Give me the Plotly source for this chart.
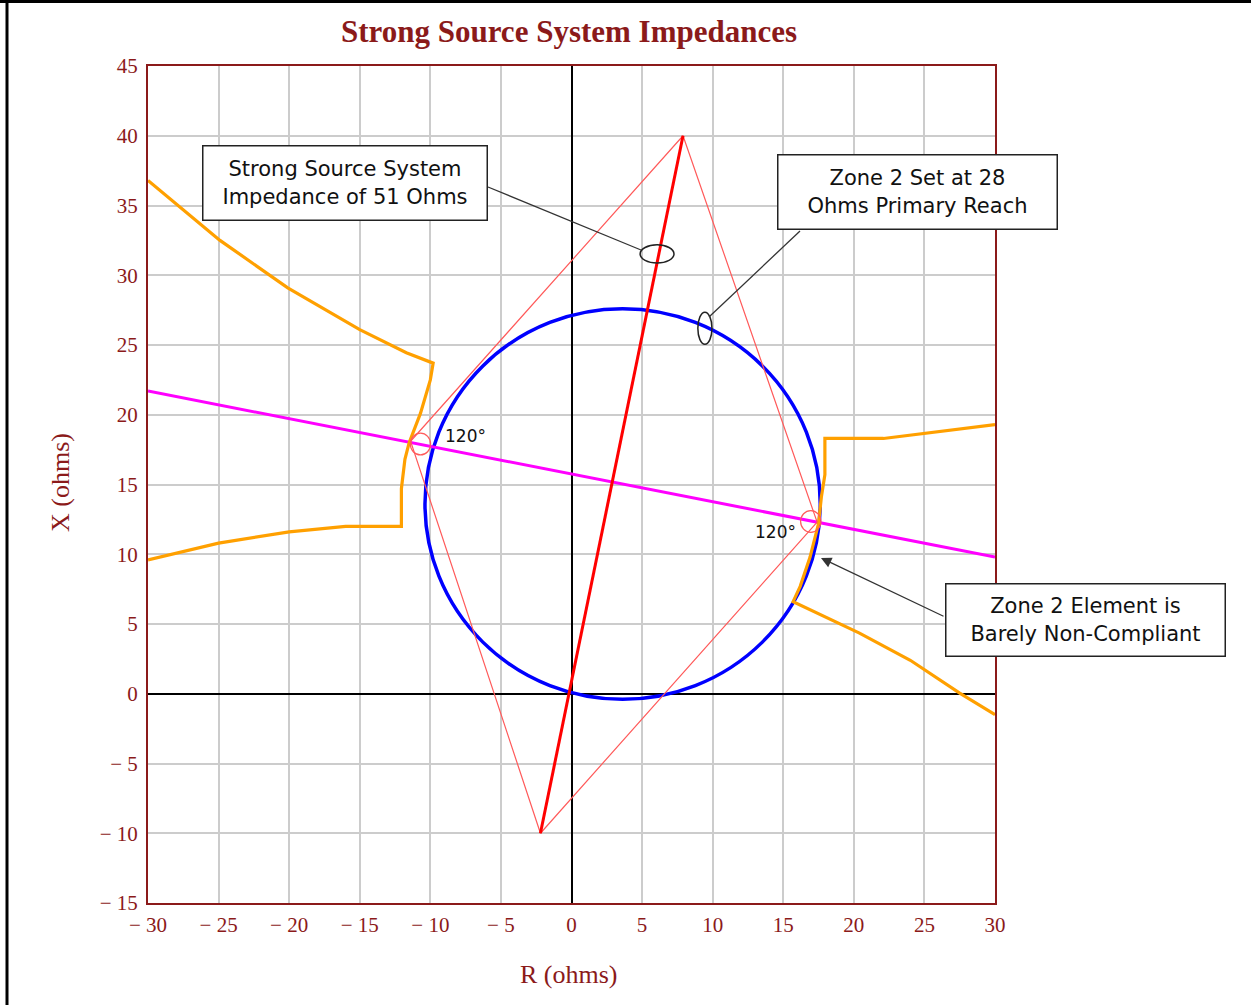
import plotly.graph_objects as go

# ---------------- data (ohms) ----------------
x_ticks = [-30, -25, -20, -15, -10, -5, 0, 5, 10, 15, 20, 25, 30]
x_tick_labels = ["\u2212 30", "\u2212 25", "\u2212 20", "\u2212 15", "\u2212 10", "\u2212 5",
                 "0", "5", "10", "15", "20", "25", "30"]
y_ticks = [-15, -10, -5, 0, 5, 10, 15, 20, 25, 30, 35, 40, 45]
y_tick_labels = ["\u2212 15", "\u2212 10", "\u2212 5", "0", "5", "10", "15", "20",
                 "25", "30", "35", "40", "45"]

# source impedance line (51 ohms)
source_r = [-2.2, 7.9]
source_x = [-10.0, 40.0]

# quadrilateral (top, right, bottom, left)
quad_r = [7.9, 17.4, -2.2, -11.4, 7.9]
quad_x = [40.0, 12.3, -10.0, 18.1, 40.0]

# magenta line
mag_r = [-30, 30]
mag_x = [21.7, 9.8]

# orange characteristic, left
orange_left_r = [-30, -25, -20, -16, -12.05, -12.05, -11.8, -11.5, -10.7, -10.0, -9.8,
                 -11.7, -15.0, -20.1, -24.9, -30]
orange_left_x = [9.6, 10.8, 11.6, 12.0, 12.0, 14.7, 16.8, 18.0, 20.1, 22.5, 23.7,
                 24.45, 26.1, 29.1, 32.5, 36.8]

# orange characteristic, right
orange_right_r = [30, 26.2, 22.1, 17.95, 17.95, 17.7, 17.5, 16.9, 16.2, 15.7,
                  20.4, 24.0, 27.5, 30]
orange_right_x = [19.3, 18.8, 18.3, 18.3, 15.7, 14.1, 12.2, 9.8, 7.7, 6.6,
                  4.35, 2.4, 0.05, -1.5]

# zone 2 mho circle
mho_center_r = 3.62
mho_center_x = 13.6
mho_radius = 14.0

# ---------------- figure ----------------
W, H = 1251, 1005
L, R_, T, B = 148, 995, 66, 903   # plot area in pixels


def px(xp):
    return (xp - L) / (R_ - L)


def py(yp):
    return (B - yp) / (B - T)


DARKRED = "#8B1A1A"
THINRED = "#FF5A5A"

fig = go.Figure()
fig.add_trace(go.Scatter(x=mag_r, y=mag_x, mode="lines",
                         line=dict(color="#FF00FF", width=3), hoverinfo="skip"))
fig.add_trace(go.Scatter(x=orange_left_r, y=orange_left_x, mode="lines",
                         line=dict(color="#FFA000", width=3.2), hoverinfo="skip"))
fig.add_trace(go.Scatter(x=orange_right_r, y=orange_right_x, mode="lines",
                         line=dict(color="#FFA000", width=3.2), hoverinfo="skip"))
fig.add_trace(go.Scatter(x=quad_r, y=quad_x, mode="lines",
                         line=dict(color=THINRED, width=1.2), hoverinfo="skip"))
fig.add_trace(go.Scatter(x=source_r, y=source_x, mode="lines",
                         line=dict(color="#FF0000", width=3), hoverinfo="skip"))

shapes = []
# mho circle
shapes.append(dict(type="circle", xref="x", yref="y", layer="between",
                   x0=mho_center_r - mho_radius, x1=mho_center_r + mho_radius,
                   y0=mho_center_x - mho_radius, y1=mho_center_x + mho_radius,
                   line=dict(color="#0000FF", width=3.5)))
# angle arcs
for cr, cx in [(-10.7, 17.9), (16.95, 12.35)]:
    shapes.append(dict(type="circle", xref="x", yref="y",
                       x0=cr - 0.72, x1=cr + 0.72, y0=cx - 0.78, y1=cx + 0.78,
                       line=dict(color=THINRED, width=1.2)))
# callout ellipses
shapes.append(dict(type="circle", xref="x", yref="y",
                   x0=6.06 - 1.2, x1=6.06 + 1.2, y0=31.53 - 0.65, y1=31.53 + 0.65,
                   line=dict(color="#222222", width=1.5)))
shapes.append(dict(type="circle", xref="x", yref="y",
                   x0=9.45 - 0.5, x1=9.45 + 0.5, y0=26.2 - 1.15, y1=26.2 + 1.15,
                   line=dict(color="#222222", width=1.5)))
# callout leader lines
shapes.append(dict(type="line", xref="paper", yref="paper",
                   x0=px(488), y0=py(187), x1=px(641), y1=py(250),
                   line=dict(color="#333333", width=1.3)))
shapes.append(dict(type="line", xref="paper", yref="paper",
                   x0=px(800), y0=py(231), x1=px(709), y1=py(317),
                   line=dict(color="#333333", width=1.3)))
# outer black frame (top and left)
shapes.append(dict(type="line", xref="paper", yref="paper",
                   x0=px(0), y0=py(1.5), x1=px(W), y1=py(1.5),
                   line=dict(color="black", width=3)))
shapes.append(dict(type="line", xref="paper", yref="paper",
                   x0=px(7), y0=py(0), x1=px(7), y1=py(H),
                   line=dict(color="black", width=3)))

box_font = dict(family="DejaVu Sans", size=21, color="#111111")
annotations = [
    dict(xref="paper", yref="paper", x=px(345), y=py(183), showarrow=False,
         text="Strong Source System<br>Impedance of 51 Ohms", font=box_font,
         bordercolor="#222222", borderwidth=1.5, borderpad=1, bgcolor="white",
         width=281, height=71, xanchor="center", yanchor="middle", align="center"),
    dict(xref="paper", yref="paper", x=px(917.5), y=py(192), showarrow=False,
         text="Zone 2 Set at 28<br>Ohms Primary Reach", font=box_font,
         bordercolor="#222222", borderwidth=1.5, borderpad=1, bgcolor="white",
         width=276, height=71, xanchor="center", yanchor="middle", align="center"),
    dict(xref="paper", yref="paper", x=px(1085.5), y=py(620), showarrow=False,
         text="Zone 2 Element is<br>Barely Non-Compliant", font=box_font,
         bordercolor="#222222", borderwidth=1.5, borderpad=1, bgcolor="white",
         width=276, height=69, xanchor="center", yanchor="middle", align="center"),
    # arrow
    dict(xref="paper", yref="paper", axref="pixel", ayref="pixel",
         x=px(821), y=py(558), ax=124, ay=59, text="", showarrow=True,
         arrowhead=2, arrowsize=1.6, arrowwidth=1.3, arrowcolor="#333333"),
    # angle labels
    dict(xref="paper", yref="paper", x=px(443), y=py(436), text="120\u00b0",
         showarrow=False, xanchor="left", yanchor="middle",
         font=dict(family="DejaVu Sans", size=17, color="#111111")),
    dict(xref="paper", yref="paper", x=px(798), y=py(532), text="120\u00b0",
         showarrow=False, xanchor="right", yanchor="middle",
         font=dict(family="DejaVu Sans", size=17, color="#111111")),
    # axis titles
    dict(xref="paper", yref="paper", x=px(569), y=py(975), text="R (ohms)",
         showarrow=False, xanchor="center", yanchor="middle",
         font=dict(family="Liberation Serif", size=26, color=DARKRED)),
    dict(xref="paper", yref="paper", x=px(60), y=py(483), text="X (ohms)",
         showarrow=False, xanchor="center", yanchor="middle", textangle=-90,
         font=dict(family="Liberation Serif", size=26, color=DARKRED)),
]

fig.update_layout(
    width=W, height=H,
    margin=dict(l=L, r=W - R_, t=T, b=H - B, pad=0),
    paper_bgcolor="white", plot_bgcolor="white",
    showlegend=False,
    title=dict(text="<b>Strong Source System Impedances</b>",
               x=569 / W, xanchor="center", y=1 - 31 / H, yanchor="middle",
               yref="container", xref="container",
               font=dict(family="Liberation Serif", size=31, color=DARKRED)),
    shapes=shapes,
    annotations=annotations,
)
fig.update_xaxes(range=[-30, 30], tickvals=x_ticks, ticktext=x_tick_labels,
                 showgrid=True, gridcolor="#cccccc", gridwidth=1.5,
                 zeroline=True, zerolinecolor="black", zerolinewidth=1.5,
                 showline=True, linecolor=DARKRED, linewidth=2, mirror=True,
                 ticks="", tickfont=dict(family="Liberation Serif", size=21, color=DARKRED),
                 ticklabelstandoff=2)
fig.update_yaxes(range=[-15, 45], tickvals=y_ticks, ticktext=y_tick_labels,
                 showgrid=True, gridcolor="#cccccc", gridwidth=1.5,
                 zeroline=True, zerolinecolor="black", zerolinewidth=1.5,
                 showline=True, linecolor=DARKRED, linewidth=2, mirror=True,
                 ticks="", tickfont=dict(family="Liberation Serif", size=21, color=DARKRED),
                 ticklabelstandoff=4)

fig.write_html("out.html", config={"displayModeBar": False},
               post_script="document.body.style.margin='0';document.body.style.overflow='hidden';")
